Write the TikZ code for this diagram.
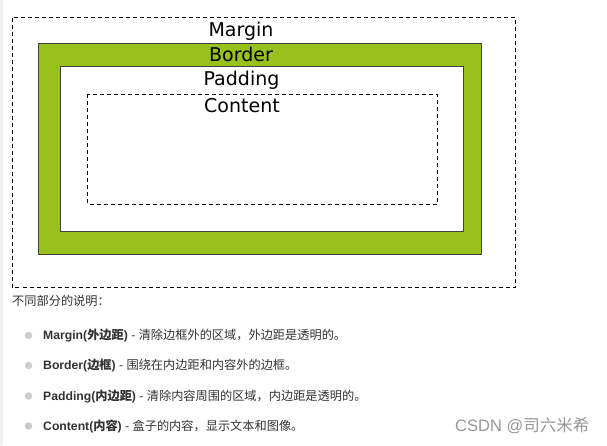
\documentclass[tikz,border=0pt]{standalone}
\usepackage{fontspec}
\setmainfont{DejaVu Sans}
\newfontfamily\arialfont{Liberation Sans}
\newfontfamily\cjk{Noto Sans CJK SC}
\newcommand\zh[1]{{\cjk #1}}
\definecolor{bordergreen}{RGB}{152,193,30}
\definecolor{txt}{RGB}{51,51,51}
\definecolor{bulletgray}{RGB}{204,204,204}
\definecolor{wm}{RGB}{150,150,150}
\begin{document}
\begin{tikzpicture}[x=1pt,y=-1pt,
  boxlabel/.style={font=\fontsize{19}{22}\selectfont, inner sep=0pt, anchor=base},
  dashbox/.style={draw=black, line width=0.9pt, dash pattern=on 4pt off 3pt},
  solidbox/.style={draw=black!75, line width=1pt},
  desc/.style={font=\arialfont\fontsize{12.2}{14}\selectfont, text=txt, inner sep=0pt, anchor=base west},
  bulletdot/.style={circle, fill=bulletgray, inner sep=0pt, minimum size=7.5pt}]
\useasboundingbox (0,0) rectangle (607,445);
\fill[white] (0,0) rectangle (607,445);
\fill[black!6] (0,0) rectangle (3,445);
% boxes
\draw[dashbox] (12.5,17.5) rectangle (515,287.5);
\draw[solidbox, fill=bordergreen] (38,43.5) rectangle (481,254.5);
\draw[solidbox, fill=white] (60.5,66.5) rectangle (463.5,231.5);
\draw[dashbox] (87.5,94) rectangle (437,204);
% labels
\node[boxlabel] (margin) at (241,36) {Margin};
\node[boxlabel] (border) at (241,61.5) {Border};
\node[boxlabel] (padding) at (241.5,85) {Padding};
\node[boxlabel] (content) at (242,112) {Content};
% description
\node[desc] (title) at (12,305.5) {\zh{不同部分的说明：}};
\node[bulletdot] (b1) at (28.5,335.5) {};
\node[bulletdot] (b2) at (28.5,365.5) {};
\node[bulletdot] (b3) at (28.5,396) {};
\node[bulletdot] (b4) at (28.5,426) {};
\node[desc] (d1) at (43,339.5) {{\bfseries Margin(\zh{外边距})} - \zh{清除边框外的区域，外边距是透明的。}};
\node[desc] (d2) at (43,369.5) {{\bfseries Border(\zh{边框})} - \zh{围绕在内边距和内容外的边框。}};
\node[desc] (d3) at (43,400) {{\bfseries Padding(\zh{内边距})} - \zh{清除内容周围的区域，内边距是透明的。}};
\node[desc] (d4) at (43,430) {{\bfseries Content(\zh{内容})} - \zh{盒子的内容，显示文本和图像。}};
\node[font=\arialfont\fontsize{16.5}{18}\selectfont, text=wm, inner sep=0pt, anchor=base west] (wmark) at (455,431) {CSDN @\zh{司六米希}};
\end{tikzpicture}
\end{document}
